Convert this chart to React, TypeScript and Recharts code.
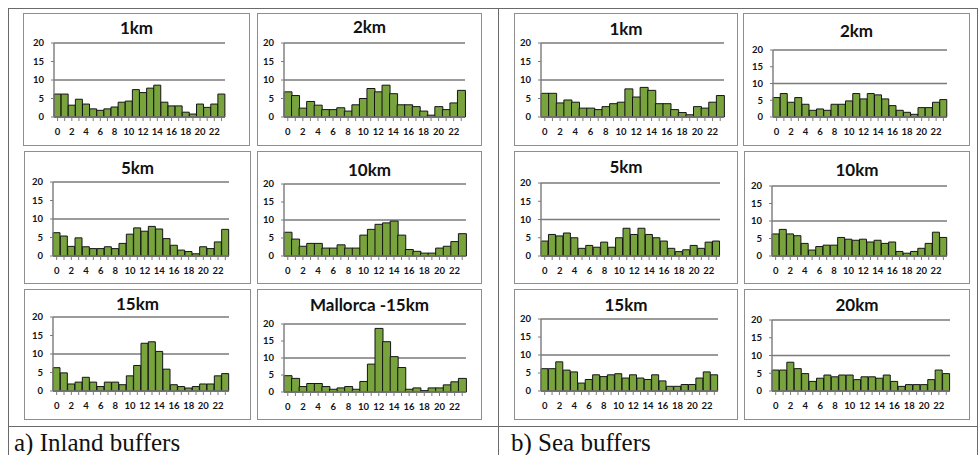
import React from 'react';
import { BarChart, Bar, XAxis, YAxis, CartesianGrid } from 'recharts';

// hour of day categories
const hours = ['0', '1', '2', '3', '4', '5', '6', '7', '8', '9', '10', '11', '12', '13', '14', '15', '16', '17', '18', '19', '20', '21', '22', '23'];
const yTicks = [0, 5, 10, 15, 20];

// inland buffers
const inland1km = [6.2, 6.2, 3.2, 4.8, 3.5, 2.2, 1.8, 2.2, 2.7, 4.0, 4.3, 7.4, 6.6, 7.8, 8.6, 4.0, 3.0, 3.0, 1.3, 0.8, 3.5, 2.6, 3.5, 6.2];
const inland2km = [6.8, 5.8, 2.4, 4.2, 3.2, 2.0, 2.0, 2.5, 1.6, 3.3, 5.0, 7.7, 6.8, 8.6, 6.3, 3.3, 3.3, 2.8, 1.6, 0.5, 2.8, 2.0, 3.8, 7.2];
const inland5km = [6.3, 5.4, 2.6, 4.9, 2.5, 2.0, 2.0, 2.5, 2.0, 3.4, 5.9, 7.6, 6.7, 8.0, 7.3, 4.7, 2.9, 1.6, 1.2, 0.6, 2.5, 2.0, 3.8, 7.2];
const inland10km = [6.6, 4.7, 2.7, 3.5, 3.5, 2.2, 2.2, 3.1, 2.2, 2.2, 5.8, 7.4, 8.8, 9.2, 9.7, 5.8, 1.8, 1.3, 0.8, 0.8, 2.2, 2.7, 4.0, 6.2];
const inland15km = [6.3, 4.9, 1.9, 2.4, 3.7, 2.4, 1.2, 2.4, 2.4, 1.7, 4.1, 6.9, 12.9, 13.3, 10.7, 5.9, 1.7, 1.2, 0.8, 1.2, 1.9, 1.9, 4.1, 4.7];
const mallorca15km = [4.8, 4.0, 1.6, 2.5, 2.5, 1.6, 0.8, 1.2, 1.6, 0.8, 3.1, 8.2, 18.7, 14.8, 10.4, 7.2, 0.8, 1.2, 0.4, 1.2, 1.2, 2.1, 3.0, 4.0];

// sea buffers
const sea1km = [6.4, 6.4, 3.8, 4.6, 4.0, 2.4, 2.4, 2.0, 2.8, 3.6, 4.0, 7.6, 5.4, 8.0, 7.2, 3.6, 3.6, 2.0, 1.2, 0.6, 2.8, 2.4, 4.0, 5.8];
const sea2km = [5.8, 7.0, 4.4, 5.8, 3.8, 2.0, 2.4, 2.0, 3.8, 3.8, 4.8, 7.0, 5.4, 7.0, 6.6, 5.4, 3.4, 2.0, 1.4, 0.8, 2.8, 2.8, 4.4, 5.2];
const sea5km = [4.1, 5.9, 5.5, 6.3, 5.0, 2.1, 2.9, 2.4, 3.8, 2.4, 5.0, 7.6, 5.9, 7.6, 5.9, 5.0, 4.1, 2.1, 1.2, 1.7, 2.9, 2.1, 3.8, 4.1];
const sea10km = [6.3, 7.6, 6.3, 5.8, 3.6, 1.7, 2.7, 3.1, 3.1, 5.3, 4.8, 4.5, 4.8, 4.0, 4.5, 3.6, 4.0, 1.3, 0.8, 1.3, 2.2, 3.6, 6.8, 5.3];
const sea15km = [6.2, 6.2, 8.1, 5.8, 5.3, 2.2, 3.2, 4.5, 4.0, 4.5, 4.8, 3.6, 4.5, 3.6, 3.2, 4.5, 2.8, 1.3, 1.3, 1.8, 1.8, 3.6, 5.3, 4.5];
const sea20km = [5.9, 5.9, 8.1, 6.3, 4.9, 2.7, 3.6, 4.5, 4.0, 4.5, 4.5, 3.2, 4.0, 4.0, 3.6, 4.5, 2.7, 1.3, 1.8, 1.8, 1.8, 3.2, 5.9, 4.9];

const FONT = 'Lato, "Open Sans", sans-serif';
const Y_AXIS_W = 24;
const X_AXIS_H = 22;

// layout: panel box + plot area (page pixels)
const panels = [
  { title: '1km', values: inland1km, x: 23, y: 13, w: 227, h: 133, axisX: 54, gridRight: 225, top: 43, zero: 117, titleY: 28 },
  { title: '2km', values: inland2km, x: 257, y: 13, w: 225, h: 133, axisX: 284, gridRight: 465, top: 43, zero: 117, titleY: 27 },
  { title: '1km', values: sea1km, x: 514, y: 13, w: 224, h: 133, axisX: 541, gridRight: 724, top: 43, zero: 117, titleY: 29 },
  { title: '2km', values: sea2km, x: 743, y: 13, w: 227, h: 133, axisX: 773, gridRight: 947, top: 50, zero: 117, titleY: 31 },
  { title: '5km', values: inland5km, x: 24, y: 151, w: 227, h: 133, axisX: 53, gridRight: 229, top: 182, zero: 256, titleY: 168 },
  { title: '10km', values: inland10km, x: 257, y: 151, w: 225, h: 133, axisX: 284, gridRight: 466, top: 184, zero: 256, titleY: 170 },
  { title: '5km', values: sea5km, x: 514, y: 151, w: 224, h: 133, axisX: 541, gridRight: 720, top: 183, zero: 256, titleY: 167 },
  { title: '10km', values: sea10km, x: 744, y: 151, w: 226, h: 133, axisX: 772, gridRight: 947, top: 186, zero: 256, titleY: 170 },
  { title: '15km', values: inland15km, x: 24, y: 289, w: 227, h: 131, axisX: 53, gridRight: 229, top: 317, zero: 391, titleY: 304 },
  { title: 'Mallorca -15km', values: mallorca15km, x: 257, y: 289, w: 225, h: 131, axisX: 284, gridRight: 466, top: 324, zero: 392, titleY: 305 },
  { title: '15km', values: sea15km, x: 514, y: 289, w: 224, h: 131, axisX: 541, gridRight: 718, top: 319, zero: 391, titleY: 305 },
  { title: '20km', values: sea20km, x: 744, y: 289, w: 226, h: 131, axisX: 772, gridRight: 950, top: 320, zero: 391, titleY: 305 },
];

const tickStyle = { fontSize: 9.5, fontWeight: 700, fill: '#111118', fontFamily: FONT };

function Panel({ p }: { p: (typeof panels)[number] }) {
  const data = hours.map((h, i) => ({ hour: h, v: p.values[i] }));
  const margin = {
    top: p.top - p.y,
    right: p.x + p.w - p.gridRight,
    left: p.axisX - p.x - Y_AXIS_W,
    bottom: p.y + p.h - p.zero - X_AXIS_H,
  };
  return (
    <>
      <div
        style={{
          position: 'absolute', left: p.x, top: p.y, width: p.w, height: p.h,
          boxSizing: 'border-box', border: '1.5px solid #8e8e8e', background: '#fff',
        }}
      />
      <div
        style={{
          position: 'absolute', left: p.x, top: p.titleY - 10, width: p.w, textAlign: 'center',
          fontFamily: FONT, fontWeight: 700, fontSize: 17, lineHeight: '20px', color: '#111',
        }}
      >
        {p.title}
      </div>
      <div style={{ position: 'absolute', left: p.x, top: p.y }}>
        <BarChart width={p.w} height={p.h} data={data} margin={margin} barCategoryGap={0}>
          <CartesianGrid vertical={false} stroke="#7a7a7a" strokeWidth={1.4} />
          <XAxis
            dataKey="hour"
            interval={0}
            height={X_AXIS_H}
            tickFormatter={(v: string) => (Number(v) % 2 === 0 ? v : '')}
            tick={tickStyle}
            tickSize={4}
            tickMargin={7}
            axisLine={{ stroke: '#7a7a7a', strokeWidth: 1.4 }}
            tickLine={{ stroke: '#7a7a7a' }}
          />
          <YAxis
            domain={[0, 20]}
            ticks={yTicks}
            width={Y_AXIS_W}
            tick={tickStyle}
            tickSize={3}
            tickMargin={7}
            axisLine={{ stroke: '#7a7a7a', strokeWidth: 1.4 }}
            tickLine={{ stroke: '#7a7a7a' }}
          />
          <Bar dataKey="v" fill="#79a33d" stroke="#151515" strokeWidth={1} isAnimationActive={false} />
        </BarChart>
      </div>
    </>
  );
}

export default function App() {
  return (
    <div style={{ position: 'absolute', left: 0, top: 0, width: 980, height: 455, background: '#fff', overflow: 'hidden' }}>
      {/* table frame */}
      <div style={{ position: 'absolute', left: 8, top: 8, width: 970, height: 460, boxSizing: 'border-box', border: '1px solid #6a6a6a' }} />
      <div style={{ position: 'absolute', left: 498, top: 8, width: 1, height: 460, background: '#6a6a6a' }} />
      <div style={{ position: 'absolute', left: 8, top: 426, width: 970, height: 1, background: '#6a6a6a' }} />

      {panels.map((p, i) => (
        <Panel key={i} p={p} />
      ))}

      <div style={{ position: 'absolute', left: 14, top: 430, fontFamily: '"Liberation Serif", serif', fontSize: 25, lineHeight: '26px', color: '#111' }}>
        a) Inland buffers
      </div>
      <div style={{ position: 'absolute', left: 511, top: 430, fontFamily: '"Liberation Serif", serif', fontSize: 25, lineHeight: '26px', color: '#111' }}>
        b) Sea buffers
      </div>
    </div>
  );
}
